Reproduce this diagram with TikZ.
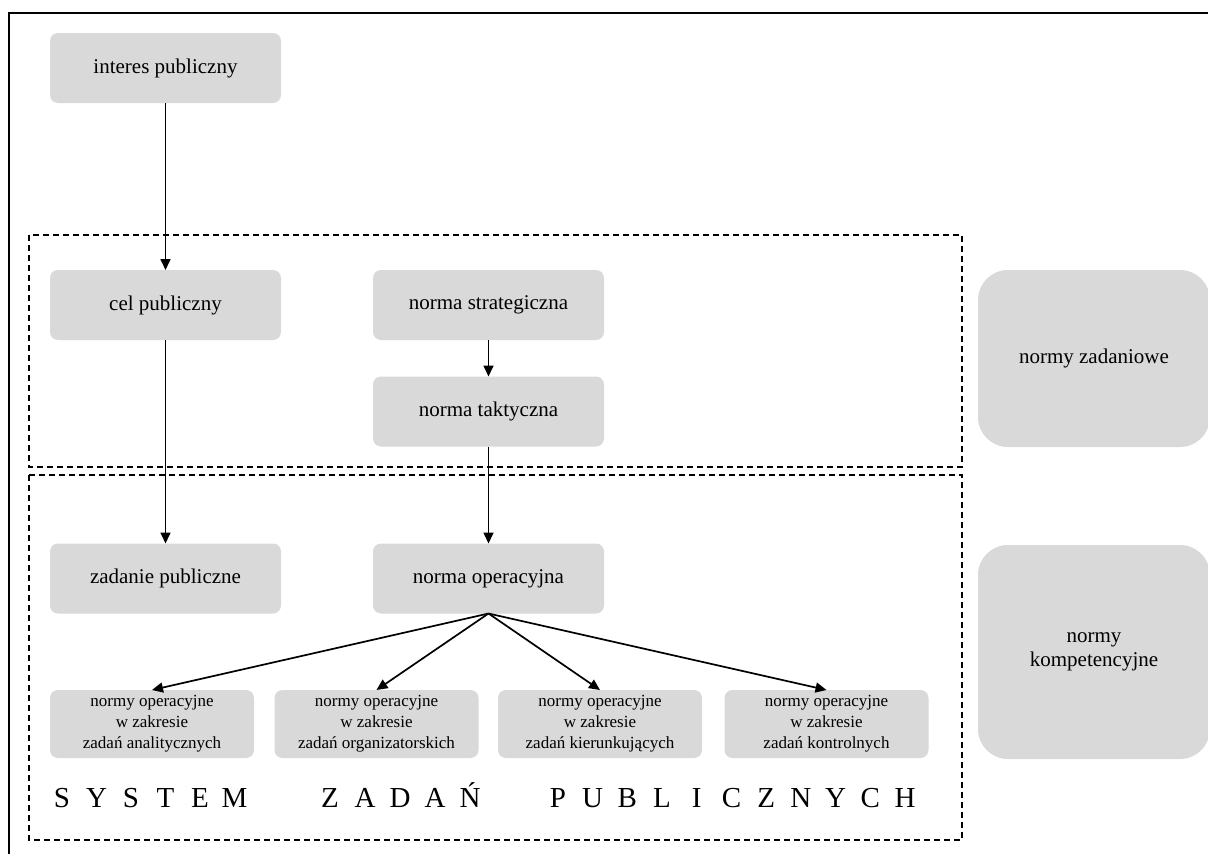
\documentclass[tikz,border=0pt]{standalone}
\usepackage{fontspec}
\setmainfont{Liberation Serif}
\usetikzlibrary{arrows.meta}
\definecolor{boxgray}{HTML}{D9D9D9}
\begin{document}
\begin{tikzpicture}[x=1pt,y=-1pt,
  box/.style={fill=boxgray,rounded corners=8pt,inner sep=0pt,outer sep=0pt,
    align=center,text=black,font=\fontsize{21}{25}\selectfont},
  bigbox/.style={box,minimum width=231pt,minimum height=70pt},
  smallbox/.style={box,minimum width=204pt,minimum height=68pt,
    font=\fontsize{17}{21}\selectfont},
  sidebox/.style={box,rounded corners=30pt,minimum width=232pt},
  arr/.style={line width=1.7pt,-{Triangle[length=11pt,width=10pt]}},
  zone/.style={draw,line width=1.6pt,dash pattern=on 6pt off 4pt},
  frame/.style={draw,line width=2pt},
  spaced/.style={anchor=base,inner sep=0pt,text=black,font=\fontsize{29}{33}\selectfont}
]
\useasboundingbox (0,0) rectangle (1208,854);
\clip (0,0) rectangle (1208,854);

% outer frame (open to the right and bottom)
\draw[frame] (9,860) -- (9,13) -- (1215,13);

% dashed zones
\draw[zone] (29,235) rectangle (962,467);
\draw[zone] (29,475) rectangle (962,840);

% main flow
\node[bigbox] (interes) at (165.5,68) {interes publiczny};
\node[bigbox] (cel) at (165.5,305) {cel publiczny};
\node[bigbox] (strat) at (488.5,305) {norma strategiczna};
\node[bigbox] (takt) at (488.5,411.5) {norma taktyczna};
\node[bigbox] (zadanie) at (165.5,578.5) {zadanie publiczne};
\node[bigbox] (oper) at (488.5,578.5) {norma operacyjna};

% operational norms
\node[smallbox] (anal) at (152,724) {normy operacyjne\\w zakresie\\zadań analitycznych};
\node[smallbox] (org) at (376.5,724) {normy operacyjne\\w zakresie\\zadań organizatorskich};
\node[smallbox] (kier) at (600,724) {normy operacyjne\\w zakresie\\zadań kierunkujących};
\node[smallbox] (kontr) at (826.5,724) {normy operacyjne\\w zakresie\\zadań kontrolnych};

% side labels
\node[sidebox,minimum height=177pt] (zad) at (1094,358.5) {normy zadaniowe};
\node[sidebox,minimum height=214pt,font=\fontsize{21}{24}\selectfont] (komp) at (1094,652) {normy\\kompetencyjne};

% connectors
\draw[arr] (interes) -- (cel);
\draw[arr] (cel) -- (zadanie);
\draw[arr] (strat) -- (takt);
\draw[arr] (takt) -- (oper);
\draw[arr] (oper.south) -- (anal.north);
\draw[arr] (oper.south) -- (org.north);
\draw[arr] (oper.south) -- (kier.north);
\draw[arr] (oper.south) -- (kontr.north);

% spaced caption
\foreach \ch [count=\i from 0] in {S,Y,S,T,E,M}
  \node[spaced] (w1-\i) at (62+34.5*\i,807) {\ch};
\foreach \ch [count=\i from 0] in {Z,A,D,A,Ń}
  \node[spaced] (w2-\i) at (330+35*\i,807) {\ch};
\foreach \ch [count=\i from 0] in {P,U,B,L,I,C,Z,N,Y,C,H}
  \node[spaced] (w3-\i) at (558+34.7*\i,807) {\ch};
\end{tikzpicture}
\end{document}
